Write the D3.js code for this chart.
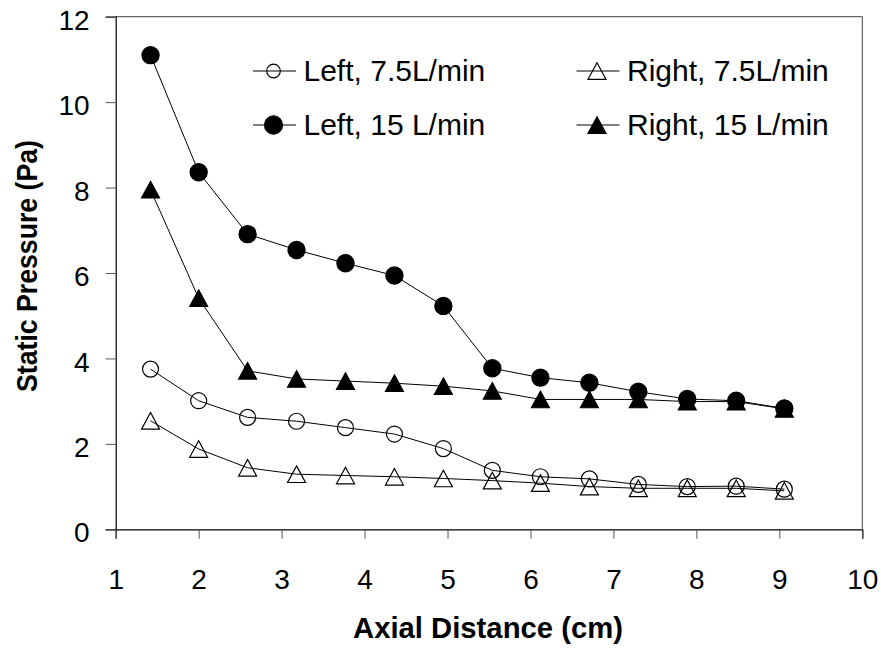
<!DOCTYPE html>
<html>
<head>
<meta charset="utf-8">
<script src="https://cdn.jsdelivr.net/npm/d3@7"></script>
<style>
  html, body { margin: 0; padding: 0; background: #fff; }
  svg { display: block; font-family: "Liberation Sans", Arial, sans-serif; }
</style>
</head>
<body>
<svg id="chart" width="881" height="648"></svg>
<script>
// ---- data ----
const axialDistance = [1.42, 2.0, 2.59, 3.18, 3.77, 4.36, 4.95, 5.54, 6.12, 6.71, 7.30, 7.89, 8.48, 9.06];
const left75  = [3.75, 3.01, 2.62, 2.53, 2.38, 2.23, 1.89, 1.38, 1.23, 1.18, 1.05, 1.00, 1.01, 0.94];
const right75 = [2.54, 1.88, 1.44, 1.29, 1.26, 1.23, 1.19, 1.14, 1.08, 1.00, 0.96, 0.96, 0.96, 0.90];
const left15  = [11.10, 8.36, 6.91, 6.54, 6.23, 5.94, 5.23, 3.77, 3.55, 3.43, 3.22, 3.05, 3.01, 2.83];
const right15 = [7.95, 5.41, 3.71, 3.52, 3.47, 3.42, 3.35, 3.24, 3.04, 3.04, 3.04, 2.99, 2.99, 2.82];
const seriesNames = ["Left, 7.5L/min", "Right, 7.5L/min", "Left, 15 L/min", "Right, 15 L/min"];
const xTicks = [1, 2, 3, 4, 5, 6, 7, 8, 9, 10];
const yTicks = [0, 2, 4, 6, 8, 10, 12];
const xTitle = "Axial Distance (cm)";
const yTitle = "Static Pressure (Pa)";

// ---- layout ----
const W = 881, H = 648;
const m = { left: 115.7, top: 16.7, right: 18.7, bottom: 118.7 };
const x = d3.scaleLinear().domain([1, 10]).range([m.left, W - m.right]);
const y = d3.scaleLinear().domain([0, 12]).range([H - m.bottom, m.top]);

const svg = d3.select("#chart");

const series = [
  { name: seriesNames[0], values: left75,  shape: "circle",   filled: false },
  { name: seriesNames[1], values: right75, shape: "triangle", filled: false },
  { name: seriesNames[2], values: left15,  shape: "circle",   filled: true },
  { name: seriesNames[3], values: right15, shape: "triangle", filled: true }
];

// frame (top & right)
svg.append("line").attr("x1", x(1)).attr("x2", x(10)).attr("y1", y(12)).attr("y2", y(12))
  .attr("stroke", "#444").attr("stroke-width", 1);
svg.append("line").attr("x1", x(10)).attr("x2", x(10)).attr("y1", y(12)).attr("y2", y(0))
  .attr("stroke", "#444").attr("stroke-width", 1);

// axes
const xAxis = d3.axisBottom(x).tickValues(xTicks).tickSize(9.5).tickPadding(20).tickFormat(d3.format("d"));
const yAxis = d3.axisLeft(y).tickValues(yTicks).tickSize(10).tickPadding(16).tickFormat(d3.format("d"));

const gx = svg.append("g").attr("transform", `translate(0,${y(0)})`).call(xAxis);
const gy = svg.append("g").attr("transform", `translate(${x(1)},0)`).call(yAxis);

[gx, gy].forEach(g => {
  g.select(".domain").attr("stroke", "#000").attr("stroke-width", 1.2);
  g.selectAll(".tick line").attr("stroke", "#555").attr("stroke-width", 1);
  g.selectAll(".tick text").attr("fill", "#000").style("font-size", "28px")
    .style("font-family", '"Liberation Sans", Arial, sans-serif');
});
gx.selectAll(".tick text").attr("dy", 0).attr("y", 59.5);
gy.selectAll(".tick text").attr("dy", "12.6px");

// titles
svg.append("text").attr("x", 488).attr("y", 638)
  .attr("text-anchor", "middle").style("font-size", "29px").style("font-weight", "bold")
  .attr("textLength", 270).attr("lengthAdjust", "spacingAndGlyphs")
  .text(xTitle);
svg.append("text").attr("transform", `translate(37.3,266) rotate(-90)`)
  .attr("text-anchor", "middle").style("font-size", "29px").style("font-weight", "bold")
  .attr("textLength", 252).attr("lengthAdjust", "spacingAndGlyphs")
  .text(yTitle);

// marker path
function trianglePath(s) {
  const hw = 9 * s, hh = 8.3 * s;
  return `M0,${-hh}L${hw},${hh}L${-hw},${hh}Z`;
}
function drawMarker(g, shape, filled, cx, cy, scale) {
  if (shape === "circle") {
    g.append("circle").attr("cx", cx).attr("cy", cy)
      .attr("r", filled ? 8.6 * scale : 8 * scale)
      .attr("fill", filled ? "#000" : "none")
      .attr("stroke", "#000").attr("stroke-width", 1.2);
  } else {
    g.append("path").attr("d", trianglePath(scale))
      .attr("transform", `translate(${cx},${cy})`)
      .attr("fill", filled ? "#000" : "none")
      .attr("stroke", "#000").attr("stroke-width", 1.2).attr("stroke-linejoin", "miter");
  }
}

const line = d3.line().x(d => x(d[0])).y(d => y(d[1]));
const plot = svg.append("g");
series.forEach(s => {
  const pts = axialDistance.map((d, i) => [d, s.values[i]]);
  plot.append("path").datum(pts).attr("d", line)
    .attr("fill", "none").attr("stroke", "#000").attr("stroke-width", 1);
});
series.forEach(s => {
  const g = plot.append("g");
  axialDistance.forEach((d, i) => drawMarker(g, s.shape, s.filled, x(d), y(s.values[i]), 1));
});

// legend
const legendCols = [253, 576.5];
const legendRows = [71, 125];
const legendLayout = [
  { s: series[0], col: 0, row: 0 },
  { s: series[1], col: 1, row: 0 },
  { s: series[2], col: 0, row: 1 },
  { s: series[3], col: 1, row: 1 }
];
const lg = svg.append("g");
legendLayout.forEach(L => {
  const x0 = legendCols[L.col], yy = legendRows[L.row];
  lg.append("line").attr("x1", x0).attr("x2", x0 + 43).attr("y1", yy).attr("y2", yy)
    .attr("stroke", "#000").attr("stroke-width", 1);
  const scale = L.s.shape === "circle" ? (L.s.filled ? 1.05 : 0.85) : 1.0;
  drawMarker(lg, L.s.shape, L.s.filled, x0 + 20.5, yy, scale);
  lg.append("text").attr("x", x0 + 50.5).attr("y", yy + 9.5)
    .style("font-size", "30px").attr("fill", "#000").text(L.s.name);
});
</script>
</body>
</html>
